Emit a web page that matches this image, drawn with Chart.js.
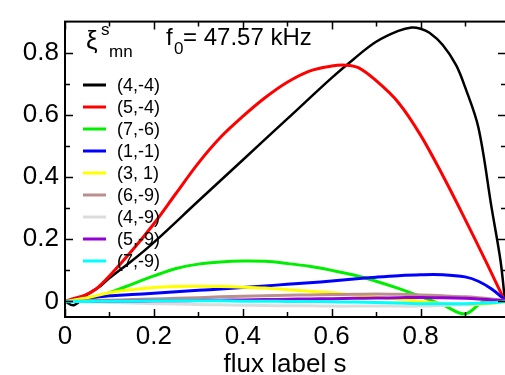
<!DOCTYPE html>
<html>
<head>
<meta charset="utf-8">
<script src="https://cdn.jsdelivr.net/npm/chart.js@4"></script>
<style>
  html, body { margin: 0; padding: 0; background: #fff; }
  #wrap { width: 505px; height: 375px; position: relative; }
</style>
</head>
<body>
<div id="wrap"><canvas id="myChart" width="505" height="375"></canvas></div>
<script>
// mode labels, colours and radial profiles
const labels = ['(4,-4)', '(5,-4)', '(7,-6)', '(1,-1)', '(3, 1)', '(6,-9)', '(4,-9)', '(5,-9)', '(7,-9)'];
const colors = ['#000000', '#ff0000', '#00ee00', '#0000ff', '#ffff00', '#bc8f8f', '#dcdcdc', '#9400d3', '#00ffff'];

const sBlack = [0, 0.02, 0.05, 0.08, 0.1, 0.15, 0.2, 0.3, 0.4, 0.5, 0.6, 0.65, 0.7, 0.75, 0.78, 0.8, 0.82, 0.85, 0.88, 0.9, 0.93, 0.96, 0.98, 0.99];
const vBlack = [0, -0.012, 0.022, 0.05, 0.075, 0.13, 0.19, 0.323, 0.455, 0.587, 0.719, 0.78, 0.835, 0.87, 0.881, 0.877, 0.864, 0.825, 0.76, 0.69, 0.56, 0.30, 0.13, 0.0];

const sRed = [0, 0.02, 0.045, 0.07, 0.1, 0.15, 0.2, 0.25, 0.3, 0.35, 0.4, 0.45, 0.5, 0.55, 0.6, 0.63, 0.66, 0.7, 0.75, 0.8, 0.85, 0.9, 0.95, 0.99];
const vRed = [0, 0.01, 0.02, 0.04, 0.082, 0.162, 0.25, 0.348, 0.445, 0.528, 0.595, 0.655, 0.705, 0.741, 0.757, 0.76, 0.752, 0.71, 0.64, 0.535, 0.405, 0.265, 0.12, 0.0];

const sGreen = [0, 0.02, 0.06, 0.1, 0.15, 0.2, 0.25, 0.3, 0.35, 0.4, 0.45, 0.5, 0.55, 0.6, 0.65, 0.7, 0.75, 0.8, 0.85, 0.9, 0.94, 0.97, 0.99];
const vGreen = [0, 0, 0.01, 0.028, 0.055, 0.082, 0.106, 0.12, 0.127, 0.13, 0.129, 0.122, 0.113, 0.1, 0.085, 0.065, 0.042, 0.016, -0.011, -0.04, -0.002, 0.0, 0.0];

const sSmall = [0, 0.05, 0.1, 0.15, 0.2, 0.25, 0.3, 0.35, 0.4, 0.45, 0.5, 0.55, 0.6, 0.65, 0.7, 0.75, 0.8, 0.85, 0.9, 0.93, 0.96, 0.99];
const vBlue   = [0, 0.012, 0.018, 0.022, 0.026, 0.031, 0.036, 0.04, 0.045, 0.05, 0.055, 0.06, 0.066, 0.072, 0.078, 0.083, 0.086, 0.086, 0.079, 0.065, 0.04, 0.005];
const vYellow = [0, 0.012, 0.028, 0.038, 0.045, 0.048, 0.049, 0.048, 0.046, 0.043, 0.038, 0.033, 0.028, 0.021, 0.014, 0.007, 0.0, -0.007, -0.01, -0.01, -0.007, 0.0];
const vBrown  = [0, 0.002, 0.004, 0.006, 0.008, 0.01, 0.012, 0.015, 0.017, 0.018, 0.02, 0.021, 0.022, 0.023, 0.024, 0.023, 0.021, 0.018, 0.015, 0.012, 0.008, 0.003];
const vGray   = [0, -0.001, -0.003, -0.005, -0.007, -0.008, -0.01, -0.011, -0.012, -0.013, -0.014, -0.014, -0.015, -0.015, -0.015, -0.015, -0.015, -0.013, -0.01, -0.007, -0.004, 0.0];
const vPurple = [0, 0.0, 0.001, 0.001, 0.002, 0.002, 0.003, 0.004, 0.005, 0.006, 0.007, 0.008, 0.009, 0.01, 0.011, 0.012, 0.013, 0.012, 0.01, 0.008, 0.005, 0.002];
const vCyan   = [0, 0.0, 0.001, 0.001, 0.002, 0.002, 0.002, 0.002, 0.001, 0.001, 0.0, 0.0, -0.001, -0.002, -0.003, -0.005, -0.007, -0.007, -0.007, -0.006, -0.004, 0.0];

const xTicks = [0, 0.2, 0.4, 0.6, 0.8];
const yTicks = [0, 0.2, 0.4, 0.6, 0.8];
const xMinor = [0.1, 0.3, 0.5, 0.7, 0.9];
const yMinor = [0.1, 0.3, 0.5, 0.7];

const series = [
    [sBlack, vBlack], [sRed, vRed], [sGreen, vGreen], [sSmall, vBlue], [sSmall, vYellow],
    [sSmall, vBrown], [sSmall, vGray], [sSmall, vPurple], [sSmall, vCyan]
];
const widths = [2.5, 3, 3, 3, 3, 3, 3, 3, 3];

const FONT = "'Liberation Sans', Arial, Helvetica, sans-serif";
Chart.defaults.font.family = FONT;
Chart.defaults.color = '#000';

const datasets = series.map((pair, i) => ({
    label: labels[i],
    data: pair[0].map((s, k) => ({x: s, y: pair[1][k]})),
    borderColor: colors[i],
    backgroundColor: colors[i],
    borderWidth: widths[i],
    pointRadius: 0,
    fill: false,
    tension: 0.35,
    order: series.length - i
}));

// frame, inward ticks, legend and the two annotations
const decorations = {
    id: 'decorations',
    afterDraw(chart) {
        const c = chart.ctx;
        const a = chart.chartArea;
        const xs = chart.scales.x, ys = chart.scales.y;
        c.save();
        c.strokeStyle = '#000';
        c.lineWidth = 2;
        c.strokeRect(a.left, a.top, a.right - a.left + 1, a.bottom - a.top);
        c.lineWidth = 1.5;
        c.beginPath();
        const tickX = (vals, len) => vals.forEach(v => {
            const p = Math.round(xs.getPixelForValue(v)) + 0.5;
            c.moveTo(p, a.bottom); c.lineTo(p, a.bottom - len);
            c.moveTo(p, a.top); c.lineTo(p, a.top + len);
        });
        const tickY = (vals, len) => vals.forEach(v => {
            const p = Math.round(ys.getPixelForValue(v)) + 0.5;
            c.moveTo(a.left, p); c.lineTo(a.left + len, p);
            c.moveTo(a.right + 1, p); c.lineTo(a.right + 1 - len, p);
        });
        tickX(xTicks, 8); tickX(xMinor, 5);
        tickY(yTicks, 8); tickY(yMinor, 5);
        c.stroke();

        // legend
        c.font = '18px ' + FONT;
        c.textBaseline = 'middle';
        c.textAlign = 'left';
        labels.forEach((lab, i) => {
            const y = 85 + i * 22;
            c.strokeStyle = colors[i];
            c.lineWidth = 3;
            c.beginPath();
            c.moveTo(83, y); c.lineTo(106, y);
            c.stroke();
            c.fillStyle = '#000';
            c.fillText(lab, 117, y + 1);
        });

        // xi^s_mn
        c.textBaseline = 'alphabetic';
        c.font = '26px ' + FONT;
        c.fillText('ξ', 86, 49);
        c.font = '17px ' + FONT;
        c.fillText('s', 101, 35);
        c.fillText('mn', 109, 57);
        // f_0 = 47.57 kHz
        c.font = '24px ' + FONT;
        c.fillText('f', 166, 45);
        c.font = '17px ' + FONT;
        c.fillText('0', 174, 54);
        c.font = '24px ' + FONT;
        c.fillText('= 47.57 kHz', 183, 45);
        c.restore();
    }
};

const ctx = document.getElementById('myChart').getContext('2d');
const myChart = new Chart(ctx, {
    type: 'line',
    data: { datasets: datasets },
    options: {
        responsive: false,
        animation: false,
        layout: { padding: { top: 10, right: 0, left: 0, bottom: 0 } },
        plugins: { legend: { display: false }, tooltip: { enabled: false } },
        scales: {
            x: {
                type: 'linear',
                min: 0, max: 0.99,
                grid: { display: false, drawTicks: false },
                border: { display: false },
                ticks: {
                    font: { size: 26 }, padding: 4, maxRotation: 0,
                    callback: v => v === 0 ? '0' : v.toFixed(1)
                },
                afterBuildTicks: s => { s.ticks = xTicks.map(v => ({value: v})); },
                afterFit: s => { s.height = 58; },
                title: { display: true, text: 'flux label s', font: { size: 26 }, padding: { top: 0, bottom: -5 } }
            },
            y: {
                type: 'linear',
                min: -0.05, max: 0.9,
                grid: { display: false, drawTicks: false },
                border: { display: false },
                ticks: {
                    font: { size: 26 }, padding: 6,
                    callback: v => v === 0 ? '0' : v.toFixed(1)
                },
                afterBuildTicks: s => { s.ticks = yTicks.map(v => ({value: v})); },
                afterFit: s => { s.width = 65; }
            }
        }
    },
    plugins: [decorations]
});
</script>
</body>
</html>
